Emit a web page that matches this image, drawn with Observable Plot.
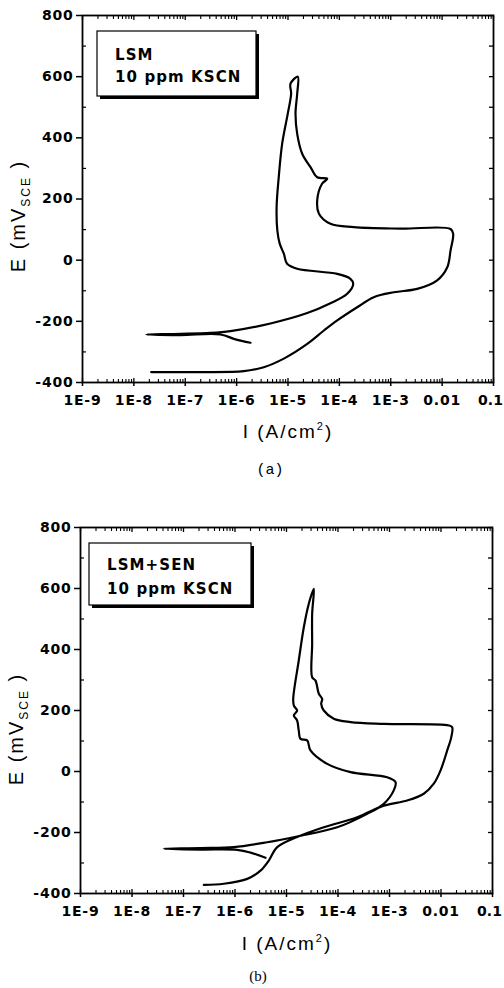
<!DOCTYPE html>
<html><head><meta charset="utf-8">
<script src="https://cdn.jsdelivr.net/npm/d3@7"></script>
<script src="https://cdn.jsdelivr.net/npm/@observablehq/plot@0.6"></script>
<style>
body{margin:0;background:#fff;}
#wrap{position:relative;width:504px;height:988px;overflow:hidden;}
.panel{position:absolute;left:0;}
.panel g[aria-label="x-axis tick label"] text,.panel g[aria-label="y-axis tick label"] text{letter-spacing:0.8px;}
</style></head><body><div id="wrap"></div>
<script>
// ---- axis ticks ----
const xTickValues = [1e-9, 1e-8, 1e-7, 1e-6, 1e-5, 1e-4, 1e-3, 1e-2, 1e-1];
const xTickLabels = ["1E-9", "1E-8", "1E-7", "1E-6", "1E-5", "1E-4", "1E-3", "0.01", "0.1"];
const yTickValues = [-400, -200, 0, 200, 400, 600, 800];
const yMinorValues = [-300, -100, 100, 300, 500, 700];

// ---- panel texts ----
const panelNames = ["LSM", "LSM+SEN"];
const solutionText = "10 ppm KSCN";
const captions = ["(a)", "(b)"];

// ---- panel (a): current density I (A/cm2) and potential E (mV SCE), in scan order ----
const aI = [1.86e-6, 9.5e-7, 4.85e-7, 8.1e-8, 1.76e-8, 8.1e-8, 3.1e-7, 7.6e-7, 4.56e-6, 2.37e-5,
  6.7e-5, 1.42e-4, 1.86e-4, 1.64e-4, 9.1e-5, 1.51e-5, 9.6e-6, 8.3e-6, 6.9e-6, 6.2e-6,
  6.0e-6, 6.6e-6, 7.7e-6, 9.9e-6, 1.15e-5, 1.12e-5, 1.55e-5, 1.51e-5, 1.4e-5, 1.51e-5,
  1.89e-5, 2.74e-5, 3.7e-5, 5.8e-5, 4.6e-5, 3.7e-5, 4.0e-5, 6.7e-5, 1.91e-4, 1.55e-3,
  0.0146, 0.0164, 0.0146, 0.0126, 0.0080, 0.00327, 0.00115, 4.68e-4, 2.22e-4, 9.1e-5,
  5.0e-5, 2.37e-5, 8.3e-6, 3.38e-6, 1.38e-6, 1.71e-7, 2.17e-8];
const aE = [-270, -259, -243, -245, -243, -241, -238, -232, -207, -173,
  -141, -110, -77, -61, -45, -28, -12, 21, 54, 97,
  173, 271, 381, 479, 544, 577, 600, 544, 479, 413,
  348, 304, 271, 266, 250, 195, 152, 119, 108, 103,
  102, 86, 32, -23, -66, -94, -105, -121, -154, -197,
  -230, -274, -322, -350, -363, -366, -366];

// ---- panel (b) ----
const bI = [3.91e-6, 2.0e-6, 1.10e-6, 2.14e-7, 4.14e-8, 2.14e-7, 9.5e-7, 4.22e-6, 1.61e-5, 9.64e-5,
  3.69e-4, 7.74e-4, 1.21e-3, 1.31e-3, 9.0e-4, 1.75e-4, 6.17e-5, 2.92e-5, 2.52e-5, 1.87e-5,
  1.73e-5, 1.61e-5, 1.39e-5, 1.61e-5, 1.39e-5, 1.35e-5, 1.73e-5, 2.17e-5, 2.71e-5, 3.39e-5,
  3.15e-5, 3.15e-5, 3.15e-5, 3.66e-5, 4.24e-5, 4.93e-5, 4.72e-5, 5.30e-5, 8.28e-5, 1.75e-4,
  7.74e-4, 0.01416, 0.0165, 0.0158, 0.0132, 0.00977, 0.00724, 0.00463, 0.00221, 7.74e-4,
  2.36e-4, 5.3e-5, 1.61e-5, 6.61e-6, 4.53e-6, 3.13e-6, 1.73e-6, 6.07e-7, 2.48e-7];
const bE = [-283, -266, -257, -256, -253, -251, -248, -232, -213, -183,
  -139, -106, -62, -35, -19, -2, 25, 69, 102, 107,
  134, 167, 184, 200, 216, 238, 364, 473, 550, 599,
  517, 419, 309, 298, 255, 238, 222, 200, 173, 162,
  156, 151, 145, 112, 69, 3, -40, -73, -95, -112,
  -150, -183, -215, -248, -292, -325, -352, -368, -372];

const xMinor = [];
for (const d of xTickValues.slice(0, -1)) for (let m = 2; m <= 9; m++) xMinor.push(m * d);

const tickFont = {fontSize: 14, fontWeight: "bold", fontFamily: "DejaVu Sans"};

function makePanel(cfg) {
  const data = cfg.I.map((v, i) => ({I: v, E: cfg.E[i]}));
  const chart = Plot.plot({
    width: 504, height: cfg.height,
    marginTop: cfg.mt, marginBottom: cfg.mb, marginLeft: cfg.ml, marginRight: cfg.mr,
    style: {background: "#fff", color: "#000", overflow: "visible"},
    x: {type: "log", domain: [1e-9, 0.1]},
    y: {domain: [-400, 800]},
    marks: [
      Plot.line(data, {x: "I", y: "E", stroke: "#000", strokeWidth: 2.2, curve: "catmull-rom"}),
      Plot.frame({stroke: "#000", strokeWidth: 1.8}),
      Plot.axisX(xTickValues, {anchor: "bottom", tickSize: 4, tickPadding: 9, strokeWidth: 1.5,
        tickFormat: d => xTickLabels[xTickValues.indexOf(d)], label: null, ...tickFont}),
      Plot.axisX(xTickValues, {anchor: "bottom", tickSize: -4, fill: "none", strokeWidth: 1.3, label: null}),
      Plot.axisX(xMinor, {anchor: "bottom", tickSize: -3, fill: "none", strokeWidth: 1.1, label: null}),
      Plot.axisX(xTickValues, {anchor: "top", tickSize: -4, fill: "none", strokeWidth: 1.3, label: null}),
      Plot.axisX(xMinor, {anchor: "top", tickSize: -3, fill: "none", strokeWidth: 1.1, label: null}),
      Plot.axisY(yTickValues, {anchor: "left", tickSize: 6, tickPadding: 3, strokeWidth: 1.5,
        tickFormat: d => String(d), label: null, ...tickFont}),
      Plot.axisY(yMinorValues, {anchor: "left", tickSize: -4, fill: "none", strokeWidth: 1.2, label: null}),
      Plot.axisY(yTickValues.concat(yMinorValues), {anchor: "right", tickSize: -5, fill: "none", strokeWidth: 1.3, label: null})
    ]
  });
  const svg = d3.select(chart);
  // keep the last x tick label inside the page edge
  svg.selectAll('g[aria-label="x-axis tick label"] text')
    .filter(function () { return this.textContent === xTickLabels[xTickLabels.length - 1]; })
    .attr("dx", -3).style("letter-spacing", "0px");
  // x title
  const xt = svg.append("text").attr("x", cfg.xTitle[0]).attr("y", cfg.xTitle[1])
    .attr("text-anchor", "middle").attr("font-family", "Liberation Sans").attr("font-size", 19)
    .style("letter-spacing", "2px").attr("fill", "#000");
  xt.append("tspan").text("I (A/cm");
  xt.append("tspan").attr("dy", -8).attr("font-size", 11).text("2");
  xt.append("tspan").attr("dy", 8).text(")");
  // y title
  const yt = svg.append("text").attr("transform", `translate(${cfg.yTitle[0]},${cfg.yTitle[1]}) rotate(-90)`)
    .attr("text-anchor", "middle").attr("font-family", "Liberation Sans").attr("font-size", 20)
    .style("letter-spacing", "2px").attr("fill", "#000");
  yt.append("tspan").text("E (mV");
  yt.append("tspan").attr("dy", 5).attr("font-size", 12).text("SCE");
  yt.append("tspan").attr("dy", -5).text(" )");
  // legend box
  const [bx, by, bw, bh] = cfg.box;
  svg.append("rect").attr("x", bx + 3).attr("y", by + 3).attr("width", bw).attr("height", bh).attr("fill", "#000");
  svg.append("rect").attr("x", bx).attr("y", by).attr("width", bw).attr("height", bh)
    .attr("fill", "#fff").attr("stroke", "#000").attr("stroke-width", 1.2);
  [cfg.name, solutionText].forEach((t, i) => {
    svg.append("text").attr("x", cfg.boxText[0]).attr("y", cfg.boxText[1 + i])
      .attr("text-anchor", "start")
      .attr("font-family", "DejaVu Sans").attr("font-weight", "bold").attr("font-size", 15)
      .style("letter-spacing", "1.1px").attr("fill", "#000").text(t);
  });
  // caption
  svg.append("text").attr("x", cfg.caption[0]).attr("y", cfg.caption[1]).attr("text-anchor", "middle")
    .attr("font-family", cfg.captionFont).attr("font-size", 15).attr("fill", "#000").text(cfg.captionText);

  const div = document.createElement("div");
  div.className = "panel";
  div.style.top = cfg.top + "px";
  div.appendChild(chart);
  document.getElementById("wrap").appendChild(div);
}

makePanel({I: aI, E: aE, top: 0, height: 490, mt: 15, mb: 108, ml: 82, mr: 11,
  xTitle: [288, 438], yTitle: [25, 216], box: [97, 31, 159, 65], boxText: [115, 60, 82],
  name: panelNames[0], caption: [270, 474], captionText: captions[0], captionFont: "Liberation Mono"});
makePanel({I: bI, E: bE, top: 490, height: 498, mt: 37, mb: 95, ml: 80, mr: 12,
  xTitle: [287, 460], yTitle: [23, 239], box: [89, 53, 162, 62], boxText: [107, 80, 104],
  name: panelNames[1], caption: [258, 491], captionText: captions[1], captionFont: "Liberation Serif"});
</script></body></html>
